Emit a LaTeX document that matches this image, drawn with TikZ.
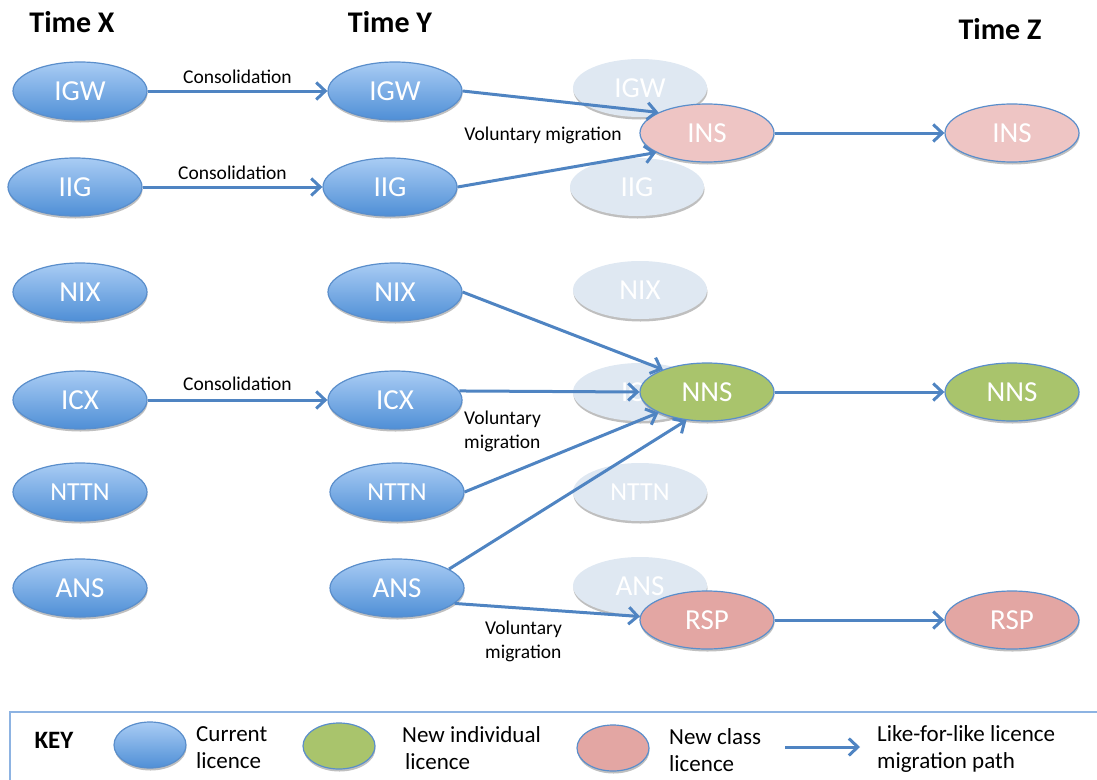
\documentclass[tikz,border=0pt]{standalone}
\usepackage{fontspec}
\setmainfont{Carlito}
\usetikzlibrary{positioning, arrows.meta, shapes.geometric, shadows}

\definecolor{flowblue}{HTML}{4F84C2}
\definecolor{rimblue}{HTML}{5A8ECB}
\definecolor{keyrim}{HTML}{8DB3E2}
\definecolor{curtop}{HTML}{A9CCF4}
\definecolor{curbot}{HTML}{4F8FD6}
\definecolor{fadefill}{HTML}{DFE8F2}
\definecolor{lightpink}{HTML}{EEC5C4}
\definecolor{darkpink}{HTML}{E3A6A3}
\definecolor{newgreen}{HTML}{A9C46C}

\begin{document}
\begin{tikzpicture}[x=1pt, y=-1pt,
    lic/.style={ellipse, minimum width=134pt, minimum height=58pt, inner sep=0pt,
        draw=rimblue, line width=1.2pt, text=white, font=\fontsize{29}{32}\selectfont,
        drop shadow={shadow xshift=0.5pt, shadow yshift=-2.5pt, fill=black, opacity=0.25}},
    current/.style={lic, top color=curtop, bottom color=curbot},
    faded/.style={lic, draw=none, fill=fadefill},
    indiv/.style={lic, fill=newgreen},
    classlic/.style={lic, fill=darkpink},
    classlight/.style={lic, fill=lightpink},
    flow/.style={draw=flowblue, line width=3pt, -{Straight Barb[length=9pt, width=17pt]}},
    title/.style={font=\bfseries\fontsize{30}{34}\selectfont},
    note/.style={font=\fontsize{19.5}{24}\selectfont, align=left, inner sep=0pt},
    keytext/.style={font=\fontsize{23}{27}\selectfont, align=left, inner sep=0pt, anchor=west},
    keyblob/.style={minimum width=72pt, minimum height=46pt}]
    \useasboundingbox (0,0) rectangle (1097,779);
    % Column headings
    \node[title] (timeX) at (72,22) {Time X};
    \node[title] (timeY) at (390,22) {Time Y};
    \node[title] (timeZ) at (1000,29) {Time Z};
    % Old licences fading out
    \foreach \n/\x/\y/\fs in {IGW/640/88/29, IIG/637/187/29, NIX/640/290/29,
        ICX/640/392/29, NTTN/640/492/26, ANS/640/586/29} {
        \node[faded, font=\fontsize{\fs}{\fs}\selectfont] (\n-old) at (\x,\y) {\n};
    }
    % Current licences at time X and time Y
    \foreach \n/\xa/\xb/\y/\fs in {IGW/80/395/91/29, IIG/75/390/187/29, NIX/80/395/292/29,
        ICX/80/395/400/29, NTTN/80/397/492/26, ANS/80/397/588/29} {
        \node[current, font=\fontsize{\fs}{\fs}\selectfont] (\n-x) at (\xa,\y) {\n};
        \node[current, font=\fontsize{\fs}{\fs}\selectfont] (\n-y) at (\xb,\y) {\n};
    }
    % New licences
    \node[classlight] (INS) at (707,133) {INS};
    \node[indiv] (NNS) at (707,392) {NNS};
    \node[classlic] (RSP) at (707,620) {RSP};
    \node[classlight] (INS-z) at (1012,133) {INS};
    \node[indiv] (NNS-z) at (1012,392) {NNS};
    \node[classlic] (RSP-z) at (1012,620) {RSP};
    % Consolidation
    \draw[flow] (IGW-x) -- (IGW-y) node[midway, above=6pt, note] {Consolidation};
    \draw[flow] (IIG-x) -- (IIG-y) node[midway, above=6pt, note] {Consolidation};
    \draw[flow] (ICX-x) -- (ICX-y) node[midway, above=8pt, note] {Consolidation};
    % Migration paths
    \draw[flow] (IGW-y.east) -- (INS.157);
    \draw[flow] (IIG-y.east) -- (INS.201);
    \draw[flow] (NIX-y.east) -- (NNS.153);
    \draw[flow] (ICX-y.8) -- (NNS.west);
    \draw[flow] (NTTN-y.east) -- (NNS.203);
    \draw[flow] (ANS-y.20) -- (NNS.234);
    \draw[flow] (ANS-y.-15) -- (RSP.177);
    \draw[flow] (INS) -- (INS-z);
    \draw[flow] (NNS) -- (NNS-z);
    \draw[flow] (RSP) -- (RSP-z);
    \node[note] (volA) at (543,135) {Voluntary migration};
    \node[note, anchor=west] (volB) at (464,431) {Voluntary\\migration};
    \node[note, anchor=west] (volC) at (485,641) {Voluntary\\migration};
    % Key
    \draw[keyrim, line width=1.5pt] (10,712) rectangle (1120,800);
    \node[font=\bfseries\fontsize{25}{28}\selectfont] (key) at (54,740) {KEY};
    \node[current, keyblob] (k-cur) at (150,745) {};
    \node[keytext] (k-curtext) at (196,748) {Current\\licence};
    \node[indiv, keyblob] (k-ind) at (339,746) {};
    \node[keytext] (k-indtext) at (402,748) {New individual\\\hspace*{3pt}licence};
    \node[classlic, keyblob] (k-cls) at (613,748) {};
    \node[keytext] (k-clstext) at (669,750) {New class\\licence};
    \coordinate (k-a1) at (785,747);
    \coordinate (k-a2) at (860,747);
    \draw[flow] (k-a1) -- (k-a2);
    \node[keytext] (k-flowtext) at (877,749) {Like-for-like licence\\migration path};
\end{tikzpicture}
\end{document}
